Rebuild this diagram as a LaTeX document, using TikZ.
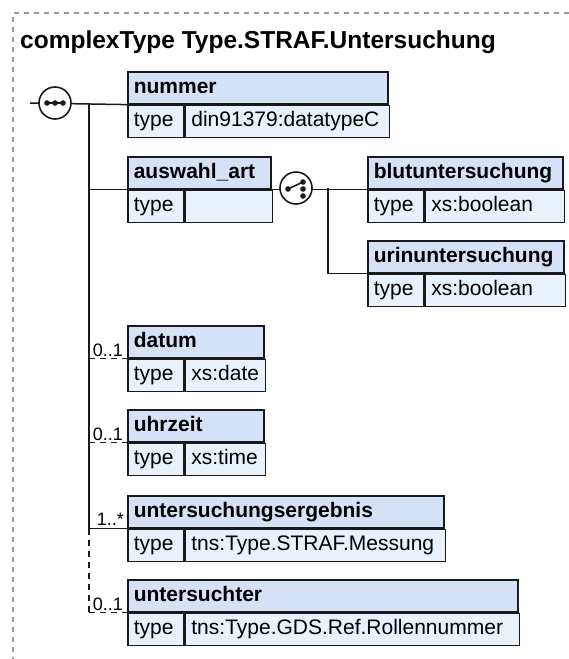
\documentclass[tikz,border=0pt]{standalone}
\usepackage{fontspec}
\setmainfont{Liberation Sans}
\usetikzlibrary{calc}
\definecolor{hdrfill}{HTML}{D4E1F7}
\definecolor{rowfill}{HTML}{E9F1FC}
\definecolor{framegray}{HTML}{9A9A9A}
\definecolor{linecol}{HTML}{1A1A1A}
\tikzset{
  cell/.style={draw=linecol, line width=1.6pt, rectangle, anchor=north west,
    minimum height=32pt, inner xsep=6pt, inner ysep=0pt,
    text height=15.5pt, text depth=4.5pt, align=left},
  hdr/.style={cell, fill=hdrfill, font=\fontsize{21}{25}\selectfont\bfseries},
  rowcell/.style={cell, fill=rowfill, font=\fontsize{21}{25}\selectfont},
  conn/.style={draw=linecol, line width=1.5pt},
  optconn/.style={conn, dash pattern=on 6pt off 5pt},
  mult/.style={anchor=base east, inner sep=0pt, font=\fontsize{18}{20}\selectfont},
  symc/.style={circle, draw=linecol, line width=1.6pt, fill=white, minimum size=32pt, inner sep=0pt},
  framestyle/.style={draw=framegray, line width=1.4pt, dash pattern=on 5pt off 5pt},
}
\newcommand{\xbox}[6]{%
  \pgfmathsetmacro\hdrw{#4-12}%
  \pgfmathsetmacro\valw{#4-68}%
  \node[hdr, text width=\hdrw pt] (#1) at (#2,#3) {\mbox{#5}};
  \node[rowcell, text width=44pt] (#1l) at (#1.south west) {\mbox{type}};
  \node[rowcell, text width=\valw pt] (#1v) at (#1l.north east) {\mbox{#6}};
}
\begin{document}
\begin{tikzpicture}[x=1pt, y=-1pt]
\useasboundingbox (0,0) rectangle (569,659);
% frame
\coordinate (frTR) at (569,13);
\coordinate (frTL) at (13,13);
\coordinate (frBL) at (13,659);
\draw[framestyle] (frTR) -- (frTL) -- (frBL);
\node[anchor=base west, inner sep=0pt, font=\fontsize{24.5}{28}\selectfont\bfseries] (title) at (20,48) {complexType Type.STRAF.Untersuchung};

% boxes
\xbox{nummer}{127}{71}{260}{nummer}{din91379:datatypeC}
\xbox{auswahl}{127}{156}{143}{auswahl\_art}{}
\xbox{blut}{367}{156}{195}{blutuntersuchung}{xs:boolean}
\xbox{urin}{367}{240}{196}{urinuntersuchung}{xs:boolean}
\xbox{datum}{127}{325}{136}{datum}{xs:date}
\xbox{uhrzeit}{127}{409}{136}{uhrzeit}{xs:time}
\xbox{ergebnis}{127}{495}{316}{untersuchungsergebnis}{tns:Type.STRAF.Messung}
\xbox{unters}{127}{579}{390}{untersuchter}{tns:Type.GDS.Ref.Rollennummer}

% sequence symbol
\coordinate (entry) at (30,103);
\coordinate (spine) at (89,103);
\draw[conn] (entry) -- (nummer.south west);
\node[symc] (seq) at (55,103) {};
\draw[line width=1.6pt, linecol] ($(seq)+(-8,0)$) -- ($(seq)+(8,0)$);
\foreach \dx in {-8,0,8} \fill[linecol] ($(seq)+(\dx,0)$) circle (2.8pt);

% spine
\draw[conn] (spine) -- (ergebnis.south west -| spine);
\draw[optconn] (ergebnis.south west -| spine) -- (unters.south west -| spine);
\draw[conn] (auswahl.south west -| spine) -- (auswahl.south west);
\draw[optconn] (datum.south west -| spine) -- (datum.south west);
\draw[optconn] (uhrzeit.south west -| spine) -- (uhrzeit.south west);
\draw[conn] (ergebnis.south west -| spine) -- (ergebnis.south west);
\draw[optconn] (unters.south west -| spine) -- (unters.south west);

% multiplicities
\node[mult] (mdatum) at ($(datum.south west)+(-4,-2)$) {0..1};
\node[mult] (muhr) at ($(uhrzeit.south west)+(-4,-2)$) {0..1};
\node[mult] (merg) at ($(ergebnis.south west)+(-3,-3)$) {1..*};
\node[mult] (munt) at ($(unters.south west)+(-4,-2)$) {0..1};

% choice symbol
\coordinate (cspine) at (328,188);
\draw[conn] (auswahl.south east) -- (blut.south west);
\draw[conn] (cspine) -- (urin.south west -| cspine) -- (urin.south west);
\node[symc] (choice) at (296,188) {};
\draw[line width=1.6pt, linecol] ($(choice)+(-8,1)$) -- ($(choice)+(7,-6)$);
\fill[linecol] ($(choice)+(-8,1)$) circle (2.8pt);
\foreach \dy in {-6,1,8} \fill[linecol] ($(choice)+(7,\dy)$) circle (2.8pt);
\end{tikzpicture}
\end{document}
